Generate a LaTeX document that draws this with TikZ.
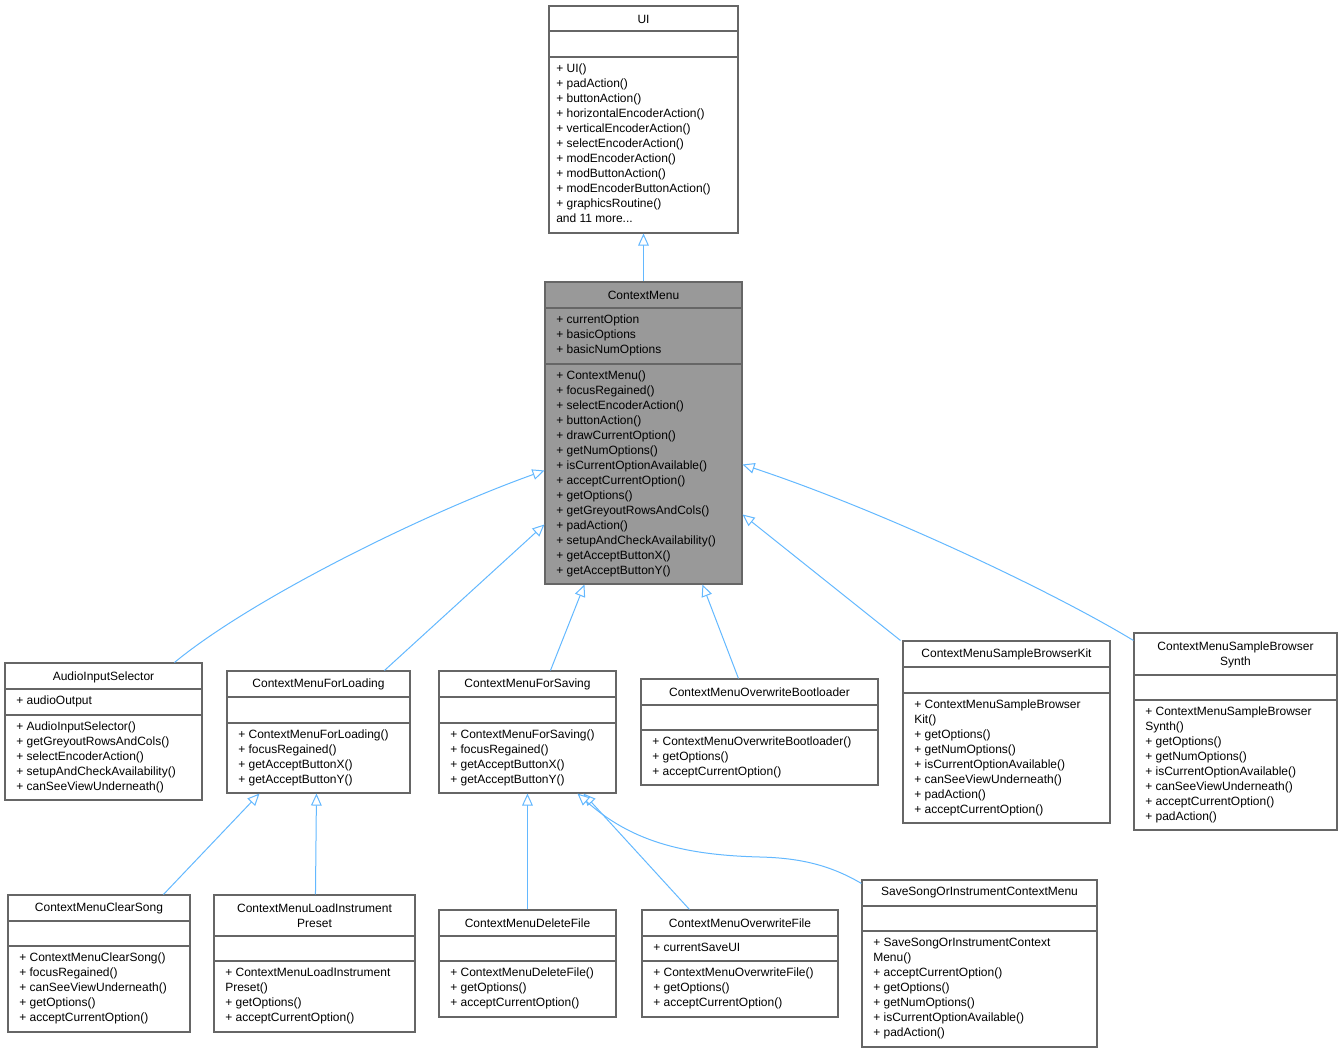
\documentclass[tikz,border=0pt]{standalone}
\usepackage{fontspec}
\setmainfont{Liberation Sans}
\usetikzlibrary{arrows.meta,fit,calc}
\definecolor{edge}{RGB}{99,184,255}
\definecolor{bord}{RGB}{102,102,102}
\tikzset{
 box/.style={draw=bord,inner sep=0pt,line width=0.8pt},
 txt/.style={inner sep=0pt,align=left,anchor=north west,font=\fontsize{9}{11.25}\selectfont},
 ttl/.style={inner sep=0pt,align=center,font=\fontsize{9}{11.25}\selectfont},
 inh/.style={draw=edge,line width=0.75pt,-{Triangle[open,length=9pt,width=8pt,fill=white]}}
}
\newcommand\clsbox[8]{% name l t r b s1 s2 fill
 \node[box,fill=#8,fit={(#2,#3)(#4,#5)}] (#1) {};
 \draw[bord,line width=0.8pt] (#2,#6) -- (#4,#6) (#2,#7) -- (#4,#7);
}
\begin{document}
\begin{tikzpicture}[x=0.75pt,y=-0.75pt]
\useasboundingbox (0,0) rectangle (1343,1053);
% UI
\clsbox{ui}{549}{6}{738}{233}{31}{57}{white}
\node[ttl] at (643.5,19) {UI};
\node[txt] at (556,64) {+ UI()\\+ padAction()\\+ buttonAction()\\+ horizontalEncoderAction()\\+ verticalEncoderAction()\\+ selectEncoderAction()\\+ modEncoderAction()\\+ modButtonAction()\\+ modEncoderButtonAction()\\+ graphicsRoutine()\\and 11 more...};
% ContextMenu
\clsbox{cm}{545}{282}{742}{584}{308}{364}{black!40}
\node[ttl] at (643.5,295) {ContextMenu};
\node[txt] at (556,315) {+ currentOption\\+ basicOptions\\+ basicNumOptions};
\node[txt] at (556,371) {+ ContextMenu()\\+ focusRegained()\\+ selectEncoderAction()\\+ buttonAction()\\+ drawCurrentOption()\\+ getNumOptions()\\+ isCurrentOptionAvailable()\\+ acceptCurrentOption()\\+ getOptions()\\+ getGreyoutRowsAndCols()\\+ padAction()\\+ setupAndCheckAvailability()\\+ getAcceptButtonX()\\+ getAcceptButtonY()};
% AudioInputSelector
\clsbox{ais}{5}{663}{202}{800}{689}{715}{white}
\node[ttl] at (103.5,677) {AudioInputSelector};
\node[txt] at (16,696) {+ audioOutput};
\node[txt] at (16,722) {+ AudioInputSelector()\\+ getGreyoutRowsAndCols()\\+ selectEncoderAction()\\+ setupAndCheckAvailability()\\+ canSeeViewUnderneath()};
% ForLoading
\clsbox{fl}{227}{671}{410}{793}{697}{723}{white}
\node[ttl] at (318.5,684) {ContextMenuForLoading};
\node[txt] at (238,730) {+ ContextMenuForLoading()\\+ focusRegained()\\+ getAcceptButtonX()\\+ getAcceptButtonY()};
% ForSaving
\clsbox{fs}{439}{671}{616}{793}{697}{723}{white}
\node[ttl] at (527.5,684) {ContextMenuForSaving};
\node[txt] at (450,730) {+ ContextMenuForSaving()\\+ focusRegained()\\+ getAcceptButtonX()\\+ getAcceptButtonY()};
% OverwriteBootloader
\clsbox{ob}{641}{679}{878}{785}{705}{730}{white}
\node[ttl] at (759.5,692) {ContextMenuOverwriteBootloader};
\node[txt] at (652,737) {+ ContextMenuOverwriteBootloader()\\+ getOptions()\\+ acceptCurrentOption()};
% SampleBrowserKit
\clsbox{kit}{903}{641}{1110}{823}{667}{693}{white}
\node[ttl] at (1006.5,654) {ContextMenuSampleBrowserKit};
\node[txt] at (914,700) {+ ContextMenuSampleBrowser\\Kit()\\+ getOptions()\\+ getNumOptions()\\+ isCurrentOptionAvailable()\\+ canSeeViewUnderneath()\\+ padAction()\\+ acceptCurrentOption()};
% SampleBrowserSynth
\clsbox{syn}{1134}{633}{1337}{830}{675}{700}{white}
\node[ttl] at (1235.5,654.5) {ContextMenuSampleBrowser\\Synth};
\node[txt] at (1145,707) {+ ContextMenuSampleBrowser\\Synth()\\+ getOptions()\\+ getNumOptions()\\+ isCurrentOptionAvailable()\\+ canSeeViewUnderneath()\\+ acceptCurrentOption()\\+ padAction()};
% ClearSong
\clsbox{cs}{8}{895}{190}{1032}{921}{946}{white}
\node[ttl] at (99,908) {ContextMenuClearSong};
\node[txt] at (19,953) {+ ContextMenuClearSong()\\+ focusRegained()\\+ canSeeViewUnderneath()\\+ getOptions()\\+ acceptCurrentOption()};
% LoadInstrumentPreset
\clsbox{lip}{214}{895}{415}{1032}{936}{961}{white}
\node[ttl] at (314.5,915.5) {ContextMenuLoadInstrument\\Preset};
\node[txt] at (225,968) {+ ContextMenuLoadInstrument\\Preset()\\+ getOptions()\\+ acceptCurrentOption()};
% DeleteFile
\clsbox{df}{439}{910}{616}{1017}{936}{961}{white}
\node[ttl] at (527.5,923) {ContextMenuDeleteFile};
\node[txt] at (450,968) {+ ContextMenuDeleteFile()\\+ getOptions()\\+ acceptCurrentOption()};
% OverwriteFile
\clsbox{of}{642}{910}{838}{1017}{936}{961}{white}
\node[ttl] at (740,923) {ContextMenuOverwriteFile};
\node[txt] at (653,943) {+ currentSaveUI};
\node[txt] at (653,968) {+ ContextMenuOverwriteFile()\\+ getOptions()\\+ acceptCurrentOption()};
% SaveSong
\clsbox{ss}{862}{880}{1097}{1047}{906}{931}{white}
\node[ttl] at (979.5,893) {SaveSongOrInstrumentContextMenu};
\node[txt] at (873,938) {+ SaveSongOrInstrumentContext\\Menu()\\+ acceptCurrentOption()\\+ getOptions()\\+ getNumOptions()\\+ isCurrentOptionAvailable()\\+ padAction()};
% edges
\draw[inh] (cm.north) -- (ui.south);
\draw[inh] ($(ais.north west)+(170,0)$) .. controls (250,600) and (420,515) .. ($(cm.north west)+(0,189)$);
\draw[inh] ($(fl.north west)+(158,0)$) -- ($(cm.north west)+(0,243)$);
\draw[inh] ($(fs.north west)+(112,0)$) -- ($(cm.south west)+(40,0)$);
\draw[inh] ($(ob.north west)+(98,0)$) -- ($(cm.south west)+(158,0)$);
\draw[inh] ($(kit.north west)+(-2,0)$) -- ($(cm.north east)+(0,233)$);
\draw[inh] ($(syn.north west)+(0,8)$) .. controls (1050,590) and (880,510) .. ($(cm.north east)+(0,183)$);
\draw[inh] ($(cs.north west)+(156,0)$) -- ($(fl.south west)+(33,0)$);
\draw[inh] ($(lip.north west)+(102,0)$) -- ($(fl.south west)+(90,0)$);
\draw[inh] ($(df.north west)+(89,0)$) -- ($(fs.south west)+(89,0)$);
\draw[inh] ($(of.north west)+(48,0)$) -- ($(fs.south west)+(145,0)$);
\draw[inh] ($(ss.north west)+(0,4)$) .. controls (830,865) and (800,858) .. (760,857) .. controls (680,855) and (630,840) .. ($(fs.south west)+(139,0)$);
\end{tikzpicture}
\end{document}
